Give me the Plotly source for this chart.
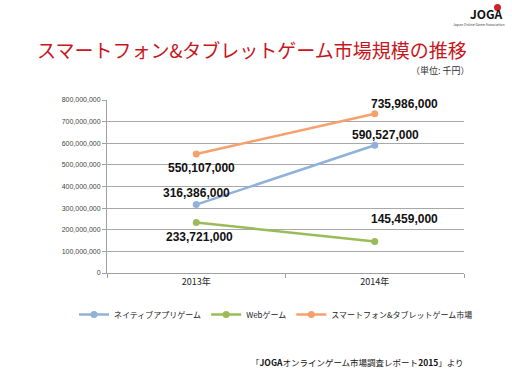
import plotly.graph_objects as go

years = ["2013年", "2014年"]
native = [316386000, 590527000]
web = [233721000, 145459000]
total = [550107000, 735986000]
series_names = ["ネイティブアプリゲーム", "Webゲーム", "スマートフォン&タブレットゲーム市場"]
colors = ["#8FB1DA", "#9BBB59", "#F6A06E"]
y_ticks = list(range(0, 800000001, 100000000))

L, R, T, B = 107, 464, 100, 273
PW, PH = R - L, B - T


def px(x):
    return (x - L) / PW


def py(y):
    return (B - y) / PH


fig = go.Figure()
for name, vals, c in zip(series_names, [native, web, total], colors):
    fig.add_trace(go.Scatter(x=years, y=vals, name=name, mode="lines+markers",
                             line=dict(color=c, width=2.5),
                             marker=dict(color=c, size=7)))

# data labels: (series values, index, pixel offsets)
label_offsets = [
    (total, 0, 5, 14), (native, 0, 0, -12), (web, 0, 3, 15),
    (total, 1, 30, -10), (native, 1, 11, -10), (web, 1, 30, -23),
]
for vals, i, ax, ay in label_offsets:
    fig.add_annotation(x=years[i], y=vals[i], text=f"<b>{vals[i]:,}</b>", showarrow=True,
                       arrowcolor="rgba(0,0,0,0)", ax=ax, ay=ay,
                       font=dict(family="Liberation Sans", size=12, color="#111111"))

ann = [
    dict(text="スマートフォン&タブレットゲーム市場規模の推移", x=252, y=49, size=19, color="#C8161D", xanchor="center"),
    dict(text="（単位: 千円）", x=472, y=70, size=9, color="#333333", xanchor="right"),
    dict(text="「<b>JOGA</b>オンラインゲーム市場調査レポート<b>2015</b>」より", x=466, y=362, size=8.5, color="#111111", xanchor="right"),
    dict(text="<b>JOGA</b>", x=486, y=14, size=12, color="#111111", xanchor="center"),
    dict(text="Japan Online Game Association", x=507, y=24, size=3.5, color="#444444", xanchor="right"),
]
for a in ann:
    fig.add_annotation(text=a["text"], x=px(a["x"]), y=py(a["y"]), xref="paper", yref="paper",
                       xanchor=a["xanchor"], yanchor="middle", showarrow=False,
                       font=dict(family="Noto Sans CJK JP", size=a["size"], color=a["color"]))

# JOGA logo red figure
fig.add_shape(type="circle", xref="paper", yref="paper",
              x0=px(494), x1=px(501), y0=py(11), y1=py(4),
              fillcolor="#D22027", line=dict(width=0), layer="below")

fig.update_layout(
    width=512, height=384,
    margin=dict(l=L, r=512 - R, t=T, b=384 - B, autoexpand=False),
    paper_bgcolor="white", plot_bgcolor="white",
    showlegend=True,
    legend=dict(orientation="h", x=px(74), xanchor="left", y=py(300), yanchor="top",
                itemwidth=30, tracegroupgap=0,
                font=dict(family="Noto Sans CJK JP", size=8, color="#222222")),
    xaxis=dict(range=[-0.5, 1.5], showline=True, linecolor="#A0A0A0", ticks="outside",
               tickson="boundaries", ticklen=4, tickcolor="#A0A0A0", showgrid=False,
               tickfont=dict(family="Noto Sans CJK JP", size=9, color="#222222")),
    yaxis=dict(range=[0, 800000000], tickvals=y_ticks, tickformat=",d", showline=True,
               linecolor="#A0A0A0", ticks="outside", ticklen=4, tickcolor="#A0A0A0",
               gridcolor="#A8A8A8", gridwidth=1, zeroline=False,
               tickfont=dict(family="Liberation Sans", size=7, color="#444444")),
)

fig.write_html("out.html", config={"displayModeBar": False},
               post_script="document.body.style.margin='0';")
